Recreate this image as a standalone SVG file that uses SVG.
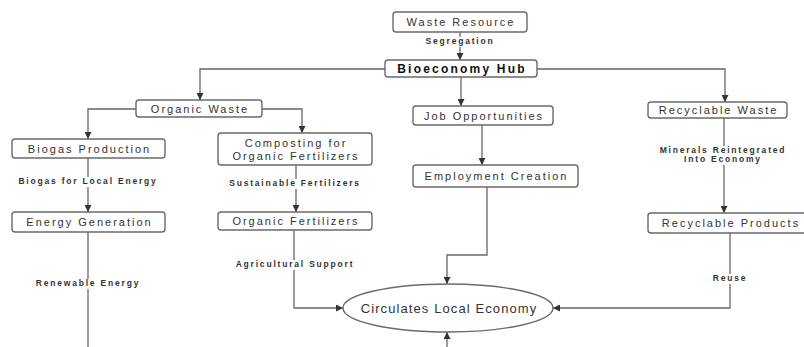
<svg xmlns="http://www.w3.org/2000/svg" width="804" height="347" viewBox="0 0 804 347">
<style>
.box{fill:#fff;stroke:#6a6a6a;stroke-width:1.4}
.nt{font-family:"Liberation Sans",Arial,sans-serif;font-size:11px;letter-spacing:2px;fill:#333;text-anchor:middle}
.hub{font-weight:bold;font-size:12px;letter-spacing:2.2px;fill:#111}
.ell{font-size:13px;letter-spacing:1.1px}
.c{fill:none;stroke:#666;stroke-width:1.3}
.el{font-family:"Liberation Sans",Arial,sans-serif;font-size:8.5px;font-weight:bold;letter-spacing:1.8px;fill:#333;text-anchor:middle}
.bg{fill:#fff}
</style>
<defs>
<marker id="a" viewBox="0 0 10 10" refX="10" refY="5" markerWidth="7" markerHeight="7" markerUnits="userSpaceOnUse" orient="auto">
<path d="M0,0 L10,5 L0,10 z" fill="#333"/>
</marker>
</defs>
<g id="connectors">
<path class="c" d="M460,32 V60" marker-end="url(#a)"/>
<path class="c" d="M385,69 H200 V100" marker-end="url(#a)"/>
<path class="c" d="M537,69 H725 V102" marker-end="url(#a)"/>
<path class="c" d="M461,77 V106" marker-end="url(#a)"/>
<path class="c" d="M136,109 H88 V139" marker-end="url(#a)"/>
<path class="c" d="M262,109 H302 V133" marker-end="url(#a)"/>
<path class="c" d="M88,158 V212" marker-end="url(#a)"/>
<path class="c" d="M296,165 V212" marker-end="url(#a)"/>
<path class="c" d="M482,125 V165" marker-end="url(#a)"/>
<path class="c" d="M724,118 V213" marker-end="url(#a)"/>
<path class="c" d="M88,232 V347"/>
<path class="c" d="M294,230 V308 H343" marker-end="url(#a)"/>
<path class="c" d="M487,187 V255 H447 V284" marker-end="url(#a)"/>
<path class="c" d="M730,233 V308 H553" marker-end="url(#a)"/>
<path class="c" d="M447,347 V332" marker-end="url(#a)"/>
<rect class="bg" x="424" y="37" width="72" height="10"/>
<rect class="bg" x="18" y="177" width="140" height="10"/>
<rect class="bg" x="228" y="179" width="134" height="10"/>
<rect class="bg" x="656" y="146" width="134" height="19"/>
<rect class="bg" x="33" y="279" width="110" height="10"/>
<rect class="bg" x="234" y="260" width="122" height="10"/>
<rect class="bg" x="711" y="274" width="38" height="10"/>
<text class="el" x="460" y="44">Segregation</text>
<text class="el" x="88" y="184">Biogas for Local Energy</text>
<text class="el" x="295" y="186">Sustainable Fertilizers</text>
<text class="el" x="723" y="153">Minerals Reintegrated</text>
<text class="el" x="723" y="162">Into Economy</text>
<text class="el" x="88" y="286">Renewable Energy</text>
<text class="el" x="295" y="267">Agricultural Support</text>
<text class="el" x="730" y="281">Reuse</text>
</g>
<g id="waste-resource"><rect class="box" x="393" y="12" width="134" height="20" rx="3"/><text class="nt" x="461" y="26">Waste Resource</text></g>
<g id="bioeconomy-hub"><rect class="box" x="385" y="60" width="152" height="17" rx="3"/><text class="nt hub" x="462" y="73">Bioeconomy Hub</text></g>
<g id="organic-waste"><rect class="box" x="136" y="100" width="126" height="17" rx="3"/><text class="nt" x="200" y="113">Organic Waste</text></g>
<g id="job-opportunities"><rect class="box" x="413" y="106" width="140" height="19" rx="3"/><text class="nt" x="484" y="119.5">Job Opportunities</text></g>
<g id="recyclable-waste"><rect class="box" x="648" y="102" width="139" height="16" rx="3"/><text class="nt" x="718.5" y="114">Recyclable Waste</text></g>
<g id="biogas-production"><rect class="box" x="12" y="139" width="153" height="19" rx="3"/><text class="nt" x="89.5" y="152.5">Biogas Production</text></g>
<g id="composting"><rect class="box" x="218" y="133" width="154" height="32" rx="3"/><text class="nt" x="296" y="147">Composting for</text><text class="nt" x="296" y="160">Organic Fertilizers</text></g>
<g id="employment-creation"><rect class="box" x="413" y="165" width="165" height="22" rx="3"/><text class="nt" x="496.5" y="180">Employment Creation</text></g>
<g id="energy-generation"><rect class="box" x="12" y="212" width="153" height="20" rx="3"/><text class="nt" x="89.5" y="226">Energy Generation</text></g>
<g id="organic-fertilizers"><rect class="box" x="218" y="212" width="154" height="18" rx="3"/><text class="nt" x="296" y="225">Organic Fertilizers</text></g>
<g id="recyclable-products"><rect class="box" x="648" y="213" width="165" height="20" rx="3"/><text class="nt" x="731" y="227">Recyclable Products</text></g>
<g id="circulates-local-economy"><ellipse class="box" cx="448" cy="308" rx="105" ry="24"/><text class="nt ell" x="449" y="312.5">Circulates Local Economy</text></g>
</svg>
